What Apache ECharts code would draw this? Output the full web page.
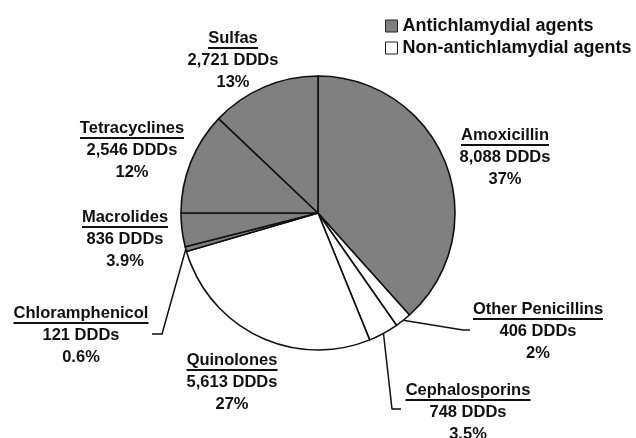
<!DOCTYPE html>
<html>
<head>
<meta charset="utf-8">
<script src="https://cdn.jsdelivr.net/npm/echarts@6/dist/echarts.min.js"></script>
<style>
  html, body { margin: 0; padding: 0; background: #fff; }
  #main { width: 636px; height: 438px; }
</style>
</head>
<body>
<div id="main"></div>
<script>
// slices clockwise from 12 o'clock
var names = ['Amoxicillin', 'Other Penicillins', 'Cephalosporins', 'Quinolones',
  'Chloramphenicol', 'Macrolides', 'Tetracyclines', 'Sulfas'];
var ddds = [8088, 406, 748, 5613, 121, 836, 2546, 2721];
var pctText = ['37%', '2%', '3.5%', '27%', '0.6%', '3.9%', '12%', '13%'];
var antichlamydial = [true, false, false, false, true, true, true, true];
var groupNames = ['Antichlamydial agents', 'Non-antichlamydial agents'];

var GRAY = '#808080';
var INK = '#111';
var FONT = '"Liberation Sans", Arial, sans-serif';
var CX = 318, CY = 213, R = 137;

// label spots: [centre x, centre y of name line]
var labelSpot = [
  [505, 135], [538, 309], [468, 390], [232, 360],
  [81, 313], [125, 217], [132, 128], [233, 38]
];
// bend + end of leader lines (only three labels have one)
var leader = {
  1: [[463, 330], [470, 330]],
  2: [[392, 409], [401, 409]],
  4: [[162, 334], [152, 334]]
};

var measure = document.createElement('canvas').getContext('2d');
measure.font = 'bold 16.5px ' + FONT;

var total = ddds.reduce(function (a, b) { return a + b; }, 0);
var cum = [];
ddds.reduce(function (acc, v, i) { cum[i] = acc; return acc + v; }, 0);

var pieData = names.map(function (n, i) {
  return {
    name: n,
    value: ddds[i],
    itemStyle: { color: antichlamydial[i] ? GRAY : '#ffffff' },
    labelLine: { show: !!leader[i] }
  };
});

var txt = { fontFamily: FONT, fontWeight: 'bold', fontSize: 16.5, color: INK };
var rich = {
  n: Object.assign({ lineHeight: 17 }, txt),
  v: Object.assign({ lineHeight: 22 }, txt)
};
// underline under each name, as wide as the name
names.forEach(function (n, i) {
  rich['u' + i] = {
    fontSize: 2, lineHeight: 3, height: 2,
    width: Math.round(measure.measureText(n).width),
    backgroundColor: INK
  };
});

var chart = echarts.init(document.getElementById('main'));

var option = {
  animation: false,
  legend: {
    orient: 'vertical',
    left: 380,
    top: 12,
    itemWidth: 12,
    itemHeight: 12,
    itemGap: 4,
    icon: 'rect',
    selectedMode: false,
    data: [
      { name: groupNames[0], itemStyle: { color: GRAY, borderColor: '#222', borderWidth: 1 } },
      { name: groupNames[1], itemStyle: { color: '#fff', borderColor: '#222', borderWidth: 1 } }
    ],
    textStyle: { fontFamily: FONT, fontWeight: 'bold', fontSize: 18, color: INK }
  },
  series: [
    {
      type: 'pie',
      center: [CX, CY],
      radius: R,
      startAngle: 90,
      clockwise: true,
      silent: true,
      data: pieData,
      itemStyle: { borderColor: INK, borderWidth: 1.6 },
      label: {
        show: true,
        position: 'outside',
        formatter: function (p) {
          var i = p.dataIndex;
          return '{n|' + names[i] + '}\n{u' + i + '| }\n{v|' +
            echarts.format.addCommas(ddds[i]) + ' DDDs}\n{v|' + pctText[i] + '}';
        },
        rich: rich
      },
      labelLine: { lineStyle: { color: INK, width: 1.5 } },
      labelLayout: function (p) {
        var i = p.dataIndex;
        var mid = (cum[i] + ddds[i] / 2) / total * Math.PI * 2;
        var start = [CX + R * Math.sin(mid), CY - R * Math.cos(mid)];
        var out = {
          x: labelSpot[i][0],
          y: labelSpot[i][1] - 8.5,
          align: 'center',
          verticalAlign: 'top'
        };
        if (leader[i]) out.labelLinePoints = [start, leader[i][0], leader[i][1]];
        return out;
      }
    },
    // empty series only to carry the two legend entries
    { type: 'pie', name: groupNames[0], data: [], showEmptyCircle: false, itemStyle: { color: GRAY } },
    { type: 'pie', name: groupNames[1], data: [], showEmptyCircle: false, itemStyle: { color: '#fff' } }
  ]
};

chart.setOption(option);
</script>
</body>
</html>
